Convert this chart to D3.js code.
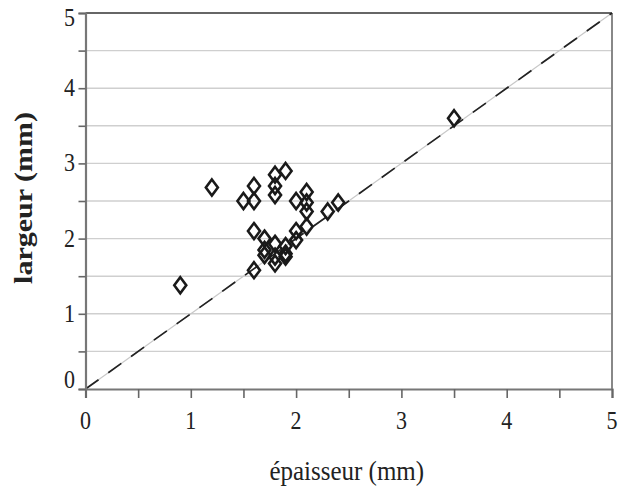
<!DOCTYPE html>
<html>
<head>
<meta charset="utf-8">
<script src="https://cdn.jsdelivr.net/npm/d3@7"></script>
<style>
  html, body { margin: 0; padding: 0; background: #fff; }
  svg text { font-family: "Liberation Serif", "Times New Roman", serif; fill: #222; }
</style>
</head>
<body>
<svg id="chart" width="626" height="490"></svg>
<script>
// Thickness (épaisseur) and width (largeur) of each specimen, in mm
const epaisseur = [0.9, 1.2, 1.5, 1.6, 1.6, 1.6, 1.6, 1.7, 1.7, 1.7, 1.8, 1.8, 1.8, 1.8, 1.8, 1.8,
                   1.9, 1.9, 1.9, 1.9, 2.0, 2.0, 2.0, 2.1, 2.1, 2.1, 2.1, 2.3, 2.4, 3.5];
const largeur   = [1.38, 2.68, 2.5, 2.7, 2.5, 2.1, 1.58, 2.0, 1.85, 1.78, 2.85, 2.7, 2.58, 1.93, 1.76, 1.67,
                   2.9, 1.9, 1.76, 1.8, 2.5, 2.1, 1.98, 2.62, 2.48, 2.36, 2.16, 2.36, 2.48, 3.6];
const xTicks = [0, 1, 2, 3, 4, 5];
const yTicks = [0, 1, 2, 3, 4, 5];
const minorTicks = [0, 0.5, 1, 1.5, 2, 2.5, 3, 3.5, 4, 4.5, 5];
const xTitle = "épaisseur (mm)";
const yTitle = "largeur (mm)";

const svg = d3.select("#chart");
const plotLeft = 85.5, plotRight = 612, plotTop = 13, plotBottom = 389;

const x = d3.scaleLinear().domain([0, 5]).range([plotLeft, plotRight]);
const y = d3.scaleLinear().domain([0, 5]).range([plotBottom, plotTop]);

// horizontal gridlines every 0.5 mm
svg.append("g").selectAll("line")
  .data(minorTicks.filter(v => v > 0 && v < 5))
  .join("line")
  .attr("x1", plotLeft).attr("x2", plotRight)
  .attr("y1", d => y(d)).attr("y2", d => y(d))
  .attr("stroke", "#cfcfcf").attr("stroke-width", 1.4);

// frame: top and right edges
svg.append("line").attr("x1", plotLeft).attr("x2", plotRight).attr("y1", plotTop).attr("y2", plotTop)
  .attr("stroke", "#666").attr("stroke-width", 2);
svg.append("line").attr("x1", plotRight).attr("x2", plotRight).attr("y1", plotTop).attr("y2", plotBottom)
  .attr("stroke", "#888").attr("stroke-width", 2);

// 1:1 reference line
const diag = d3.line().x(d => x(d)).y(d => y(d));
svg.append("path").attr("d", diag([0, 5]))
  .attr("stroke", "#c8c8c8").attr("stroke-width", 1.2).attr("fill", "none");
svg.append("path").attr("d", diag([0, 5]))
  .attr("stroke", "#222").attr("stroke-width", 1.7).attr("fill", "none")
  .attr("stroke-dasharray", "16,12");

// axes
const xAxis = d3.axisBottom(x).tickValues(minorTicks).tickSize(9).tickFormat("");
const yAxis = d3.axisLeft(y).tickValues(minorTicks).tickSize(7).tickFormat("");
const gx = svg.append("g").attr("transform", `translate(0,${plotBottom})`).call(xAxis);
const gy = svg.append("g").attr("transform", `translate(${plotLeft},0)`).call(yAxis);
[gx, gy].forEach(g => {
  g.select(".domain").attr("stroke", "#777").attr("stroke-width", 2.2);
  g.selectAll(".tick line").attr("stroke", "#666").attr("stroke-width", 1.6);
});

// tick labels
svg.append("g").selectAll("text")
  .data(xTicks).join("text")
  .attr("transform", d => `translate(${x(d)},${plotBottom + 40}) scale(1,1.18)`)
  .attr("text-anchor", "middle")
  .style("font-size", "22px")
  .text(d => d);

svg.append("g").selectAll("text")
  .data(yTicks).join("text")
  .attr("transform", d => `translate(75,${Math.min(Math.max(y(d), 18), 380) + 8}) scale(1,1.18)`)
  .attr("text-anchor", "end")
  .style("font-size", "22px")
  .text(d => d);

// axis titles
svg.append("text")
  .attr("transform", `translate(${(plotLeft + plotRight) / 2 - 2},480) scale(1,1.12)`)
  .attr("text-anchor", "middle")
  .style("font-size", "25px")
  .text(xTitle);

svg.append("text")
  .attr("transform", `translate(32,${(plotTop + plotBottom) / 2 - 3}) rotate(-90) scale(1.2,1)`)
  .attr("text-anchor", "middle")
  .style("font-size", "25px")
  .style("font-weight", "bold")
  .text(yTitle);

// data points as open diamonds
const pts = epaisseur.map((e, i) => ({ e, l: largeur[i] }));
const hw = 6, hh = 8;
svg.append("g").selectAll("path")
  .data(pts).join("path")
  .attr("d", d => {
    const cx = x(d.e), cy = y(d.l);
    return `M${cx},${cy - hh}L${cx + hw},${cy}L${cx},${cy + hh}L${cx - hw},${cy}Z`;
  })
  .attr("fill", "none")
  .attr("stroke", "#1a1a1a")
  .attr("stroke-width", 2.6)
  .attr("stroke-linejoin", "miter");
</script>
</body>
</html>
